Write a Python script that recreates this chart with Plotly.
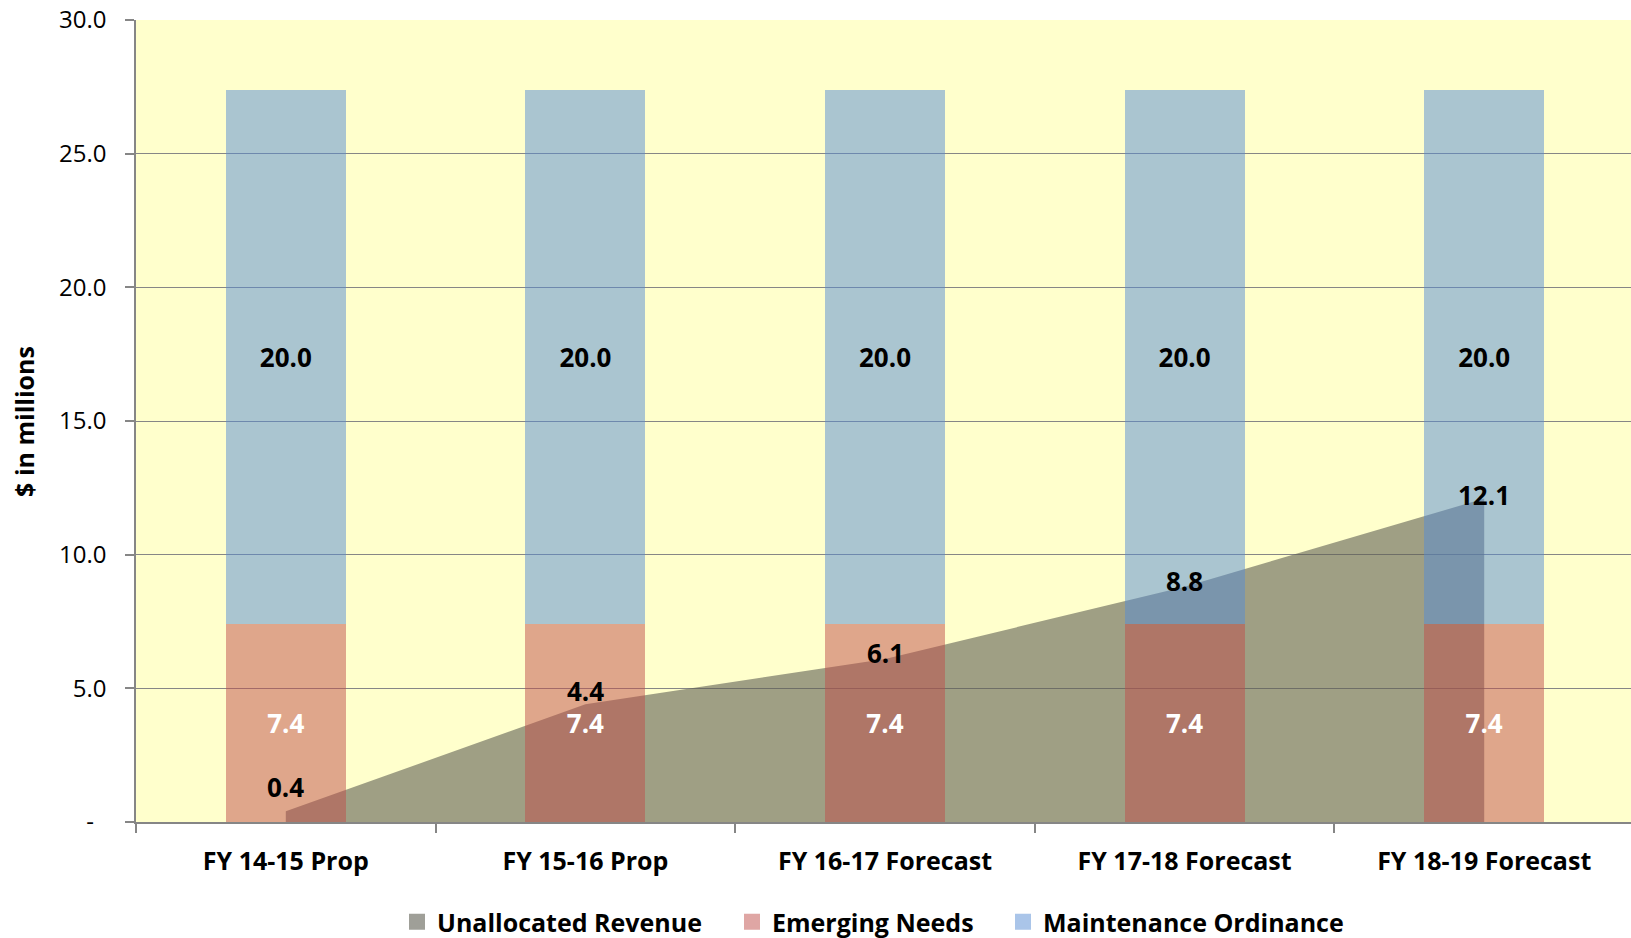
import plotly.graph_objects as go

# Fiscal years shown along the x axis
categories = ["FY 14-15 Prop", "FY 15-16 Prop", "FY 16-17 Forecast",
              "FY 17-18 Forecast", "FY 18-19 Forecast"]

# Values in $ millions
unallocated_revenue = [0.4, 4.4, 6.1, 8.8, 12.1]
emerging_needs = [7.4, 7.4, 7.4, 7.4, 7.4]
maintenance_ordinance = [20.0, 20.0, 20.0, 20.0, 20.0]

y_tick_values = [0, 5, 10, 15, 20, 25, 30]
y_tick_labels = ["-\u00a0\u00a0", "5.0", "10.0", "15.0", "20.0", "25.0", "30.0"]

FONT = "Open Sans"
GRID = "#868686"
AREA_COLOR = "rgba(95,95,83,0.6)"
EMERGING_COLOR = "rgba(191,77,74,0.5)"
MAINT_COLOR = "rgba(85,139,212,0.5)"
W, H = 1631, 938

fig = go.Figure()

# Unallocated revenue as a filled area on the base axes (drawn underneath)
fig.add_trace(go.Scatter(
    x=categories, y=unallocated_revenue, mode="lines", fill="tozeroy",
    fillcolor=AREA_COLOR, line=dict(width=0), showlegend=False,
    hoverinfo="x+y", xaxis="x", yaxis="y",
))

# Stacked bars on an overlaid pair of axes so they sit above the area
fig.add_trace(go.Bar(
    x=categories, y=emerging_needs, name="Emerging Needs", showlegend=False,
    marker=dict(color=EMERGING_COLOR, line=dict(width=0)),
    width=0.4, texttemplate="%{y:.1f}", textposition="inside",
    insidetextanchor="middle",
    textfont=dict(family=FONT, size=26, color="white", weight="bold"),
    xaxis="x2", yaxis="y2",
))
fig.add_trace(go.Bar(
    x=categories, y=maintenance_ordinance, name="Maintenance Ordinance",
    showlegend=False,
    marker=dict(color=MAINT_COLOR, line=dict(width=0)),
    width=0.4, texttemplate="%{y:.1f}", textposition="inside",
    insidetextanchor="middle",
    textfont=dict(family=FONT, size=26, color="black", weight="bold"),
    xaxis="x2", yaxis="y2",
))

# Legend swatches: one square marker per series, each in its own legend box
legend_entries = [
    ("Unallocated Revenue", AREA_COLOR, "legend", 397),
    ("Emerging Needs", EMERGING_COLOR, "legend2", 732),
    ("Maintenance Ordinance", MAINT_COLOR, "legend3", 1003),
]
legend_layout = {}
for name, color, lg, left_px in legend_entries:
    fig.add_trace(go.Scatter(
        x=[None], y=[None], mode="markers", name=name, legend=lg,
        marker=dict(symbol="square", size=16, color=color,
                    line=dict(width=0)),
        xaxis="x", yaxis="y",
    ))
    legend_layout[lg] = dict(
        xref="container", yref="container", x=left_px / W, xanchor="left",
        y=(H - 922) / H, yanchor="middle", itemwidth=30,
        font=dict(family=FONT, size=25, color="black", weight="bold"),
        bgcolor="rgba(0,0,0,0)", borderwidth=0,
    )

# Value labels for the area points
label_shift = [24, 13, 6, 6, 4]
for cat, val, dy in zip(categories, unallocated_revenue, label_shift):
    fig.add_annotation(
        x=cat, y=val, xref="x", yref="y", text=f"{val:.1f}", showarrow=False,
        yanchor="middle", yshift=dy,
        font=dict(family=FONT, size=26, color="black", weight="bold"),
    )

# Y-axis title
fig.add_annotation(
    x=-0.075, y=0.5, xref="paper", yref="paper", text="$ in millions",
    textangle=-90, showarrow=False, xanchor="center", yanchor="middle",
    font=dict(family=FONT, size=25, color="black", weight="bold"),
)

x_range = [-0.5, 4.49]
fig.update_layout(
    width=W, height=H,
    margin=dict(l=136, r=0, t=20, b=116, autoexpand=False),
    paper_bgcolor="white", plot_bgcolor="#FFFFCC",
    barmode="stack", bargap=0.6,
    font=dict(family=FONT, size=24, color="black"),
    xaxis=dict(
        type="category", categoryorder="array", categoryarray=categories,
        range=x_range, showgrid=False, showline=True, linecolor=GRID,
        linewidth=1.5, ticks="outside", tickson="boundaries", ticklen=9,
        tickcolor=GRID, tickwidth=1.5, zeroline=False, automargin=False,
        tickfont=dict(family=FONT, size=25, color="black", weight="bold"),
        ticklabelstandoff=16,
    ),
    yaxis=dict(
        range=[0, 30], tickvals=y_tick_values, ticktext=y_tick_labels,
        showgrid=True, gridcolor=GRID, gridwidth=1.3, showline=True,
        linecolor=GRID, linewidth=1.5, ticks="outside", ticklen=9,
        tickcolor=GRID, tickwidth=1.5, zeroline=False, automargin=False,
        tickfont=dict(family=FONT, size=24, color="black"),
        ticklabelstandoff=14,
    ),
    xaxis2=dict(
        type="category", categoryorder="array", categoryarray=categories,
        range=x_range, overlaying="x", visible=False,
    ),
    yaxis2=dict(range=[0, 30], overlaying="y", visible=False),
    showlegend=True,
    **legend_layout,
)

fig.write_html("out.html")
